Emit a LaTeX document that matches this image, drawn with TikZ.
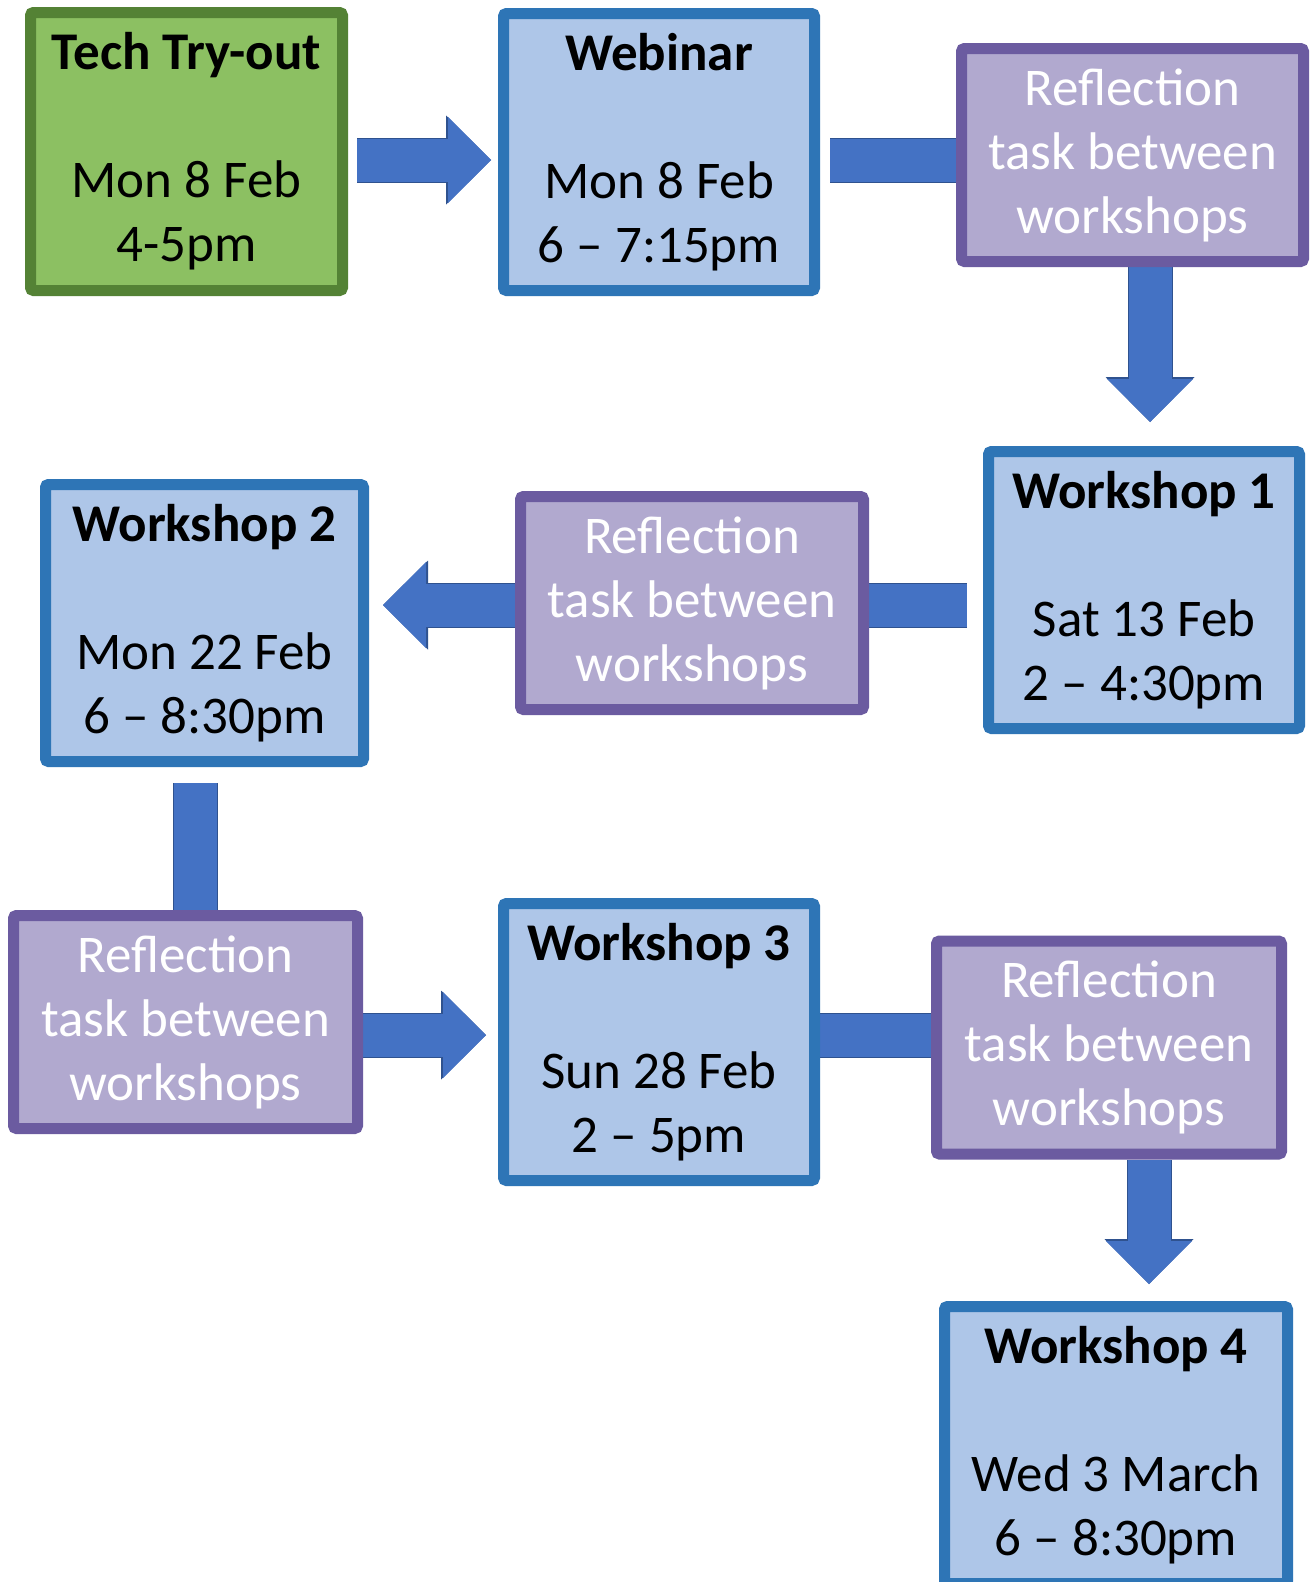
\documentclass[tikz,border=0pt]{standalone}
\usepackage{fontspec}
\setmainfont{Carlito}
\usetikzlibrary{arrows.meta}
\definecolor{techgreen}{RGB}{140,192,98}
\definecolor{techgreenline}{RGB}{84,130,53}
\definecolor{sessblue}{RGB}{174,198,232}
\definecolor{sessblueline}{RGB}{46,117,182}
\definecolor{reflpurple}{RGB}{177,169,207}
\definecolor{reflpurpleline}{RGB}{107,91,160}
\definecolor{arrowblue}{RGB}{68,114,196}
\definecolor{arrowline}{RGB}{47,82,143}
\pgfdeclarelayer{back}
\pgfsetlayers{back,main}

\begin{document}
\begin{tikzpicture}
[x=1pt, y=-1pt,
every node/.style={align=center, inner sep=0pt, font={\fontsize{53}{64}\selectfont}},
mybox/.style={line width=11pt, rounded corners=3pt},
greenbox/.style={mybox, draw=techgreenline, fill=techgreen},
bluebox/.style={mybox, draw=sessblueline, fill=sessblue, minimum width=311pt, minimum height=277pt},
purplebox/.style={mybox, draw=reflpurpleline, fill=reflpurple, text=white, minimum height=213pt},
myarrow/.style={draw=arrowblue, line width=43pt, -{Triangle[width=86pt,length=43pt,line width=0pt]},
  preaction={draw=arrowline, line width=45pt, -{Triangle[width=89pt,length=45pt,line width=0pt]}}},
myshaft/.style={draw=arrowblue, line width=43pt, preaction={draw=arrowline, line width=45pt}}]
  \useasboundingbox (0,0) rectangle (1309,1582);
  \node [greenbox, minimum width=312pt, minimum height=278pt] (tech) at (186.5,151.5) {\textbf{Tech Try-out}\\[64pt]Mon 8 Feb\\4-5pm};
  \node [bluebox] (webinar) at (659,152) {\textbf{Webinar}\\[64pt]Mon 8 Feb\\6 – 7:15pm};
  \node [purplebox, minimum width=342pt] (refl1) at (1132.5,155) {Reflection\\task between\\workshops};
  \node [bluebox] (work1) at (1144,590) {\textbf{Workshop 1}\\[64pt]Sat 13 Feb\\2 – 4:30pm};
  \node [purplebox, minimum width=343pt] (refl2) at (692,603) {Reflection\\task between\\workshops};
  \node [bluebox, minimum width=318pt] (work2) at (204.5,623) {\textbf{Workshop 2}\\[64pt]Mon 22 Feb\\6 – 8:30pm};
  \node [purplebox, minimum width=344pt] (refl3) at (185.5,1022) {Reflection\\task between\\workshops};
  \node [bluebox] (work3) at (659,1042) {\textbf{Workshop 3}\\[64pt]Sun 28 Feb\\2 – 5pm};
  \node [purplebox, minimum width=345pt] (refl4) at (1109,1047.5) {Reflection\\task between\\workshops};
  \node [bluebox, minimum width=343pt] (work4) at (1116,1445) {\textbf{Workshop 4}\\[64pt]Wed 3 March\\6 – 8:30pm};
  \begin{pgfonlayer}{back}
  \fill [white] (0,0) rectangle (1309,1582);
  \draw [myarrow, shorten <=9pt, shorten >=7pt] ([yshift=-8.5pt]tech.east) -- ([yshift=-8.5pt]tech.east -| webinar.west);
  \draw [myshaft, shorten <=10pt] ([yshift=-8pt]webinar.east) -- ([yshift=-8pt]webinar.east -| refl1.center);
  \draw [myarrow, shorten >=24pt] ([xshift=17.5pt]refl1.south) -- ([xshift=17.5pt]refl1.south |- work1.north);
  \draw [myarrow, shorten <=16pt, shorten >=14pt] ([yshift=-15pt]work1.west) -- ([yshift=-15pt]work1.west -| work2.east);
  \draw [myshaft, shorten <=16pt] ([xshift=-9pt]work2.south) -- ([xshift=-9pt]work2.south |- refl3.center);
  \draw [myarrow, shorten >=12pt] ([yshift=-13pt]refl3.east) -- ([yshift=-13pt]refl3.east -| work3.west);
  \draw [myshaft] ([yshift=7pt]work3.east) -- ([yshift=7pt]work3.east -| refl4.center);
  \draw [myarrow, shorten >=17pt] ([xshift=40pt]refl4.south) -- ([xshift=40pt]refl4.south |- work4.north);
  \end{pgfonlayer}
\end{tikzpicture}
\end{document}
